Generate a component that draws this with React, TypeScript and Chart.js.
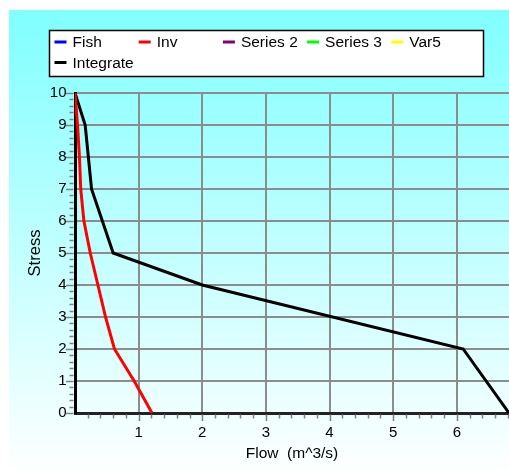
import React, { useEffect, useRef } from "react";
import { Chart, registerables } from "chart.js";
Chart.register(...registerables);

const seriesNames = ["Fish", "Inv", "Series 2", "Series 3", "Var5", "Integrate"];
const seriesColors = ["#0000ff", "#ff0000", "#800080", "#00ff00", "#ffff00", "#000000"];
const invFlow = [0, 0.04, 0.07, 0.09, 0.14, 0.24, 0.36, 0.48, 0.62, 0.93, 1.21];
const invStress = [10, 9, 8, 7, 6, 5, 4, 3, 2, 1, 0];
const integrateFlow = [0, 0.16, 0.21, 0.26, 0.6, 2.0, 6.1, 6.82];
const integrateStress = [10, 9, 8, 7, 5, 4, 2, 0];
const xMax = 6.82;
const yMax = 10;
const xTitle = "Flow  (m^3/s)";
const yTitle = "Stress";

const FONT = "'Liberation Sans', Arial, sans-serif";

const bgPlugin = {
  id: "bg",
  beforeDraw(chart: any) {
    const ctx = chart.ctx;
    const g = ctx.createLinearGradient(0, 10, 0, 474);
    g.addColorStop(0, "#80ffff");
    g.addColorStop(1, "#ffffff");
    ctx.save();
    ctx.fillStyle = g;
    ctx.fillRect(9, 10, 500, 464);
    ctx.restore();
  },
};

const minorTickPlugin = {
  id: "minorTicks",
  afterDraw(chart: any) {
    const ctx = chart.ctx;
    const xs = chart.scales.x;
    const ys = chart.scales.y;
    const area = chart.chartArea;
    ctx.save();
    ctx.strokeStyle = "#808080";
    ctx.lineWidth = 1.5;
    const nx = Math.floor(xMax / 0.2 + 1e-6);
    for (let i = 1; i <= nx; i++) {
      const major = i % 5 === 0;
      const px = Math.round(xs.getPixelForValue(i * 0.2)) + 0.5;
      ctx.beginPath();
      ctx.moveTo(px, area.bottom + 1.5);
      ctx.lineTo(px, area.bottom + (major ? 8 : 5.5));
      ctx.stroke();
    }
    const ny = Math.round(yMax / 0.2);
    for (let i = 0; i <= ny; i++) {
      const major = i % 5 === 0;
      const py = Math.round(ys.getPixelForValue(i * 0.2)) + 0.5;
      ctx.beginPath();
      ctx.moveTo(area.left - 1.5, py);
      ctx.lineTo(area.left - (major ? 9 : 5.5), py);
      ctx.stroke();
    }
    ctx.restore();
  },
};

const legendPlugin = {
  id: "boxLegend",
  afterDraw(chart: any) {
    const ctx = chart.ctx;
    ctx.save();
    ctx.fillStyle = "#ffffff";
    ctx.fillRect(49, 30, 435, 47);
    ctx.strokeStyle = "#000000";
    ctx.lineWidth = 1.5;
    ctx.strokeRect(49.5, 30.5, 434, 46);
    ctx.font = `15.5px ${FONT}`;
    ctx.textBaseline = "middle";
    ctx.textAlign = "left";
    chart.data.datasets.forEach((ds: any, i: number) => {
      const col = i % 5;
      const row = Math.floor(i / 5);
      const x = 54.5 + col * 84.2;
      const y = 42 + row * 20.5;
      ctx.strokeStyle = ds.borderColor;
      ctx.lineWidth = 3;
      ctx.beginPath();
      ctx.moveTo(x, y);
      ctx.lineTo(x + 12, y);
      ctx.stroke();
      ctx.fillStyle = "#000000";
      ctx.fillText(ds.label, x + 18, y + 1);
    });
    ctx.restore();
  },
};

export default function App() {
  const ref = useRef<HTMLCanvasElement>(null);
  useEffect(() => {
    const datasets = seriesNames.map((name, i) => {
      let data: { x: number; y: number }[] = [];
      if (name === "Inv") data = invFlow.map((x, k) => ({ x, y: invStress[k] }));
      if (name === "Integrate") data = integrateFlow.map((x, k) => ({ x, y: integrateStress[k] }));
      return {
        label: name,
        data,
        borderColor: seriesColors[i],
        backgroundColor: seriesColors[i],
        borderWidth: 3,
        pointRadius: 0,
        showLine: true,
        tension: 0,
        fill: false,
      };
    });
    const chart = new Chart(ref.current!, {
      type: "scatter",
      data: { datasets },
      options: {
        animation: false,
        responsive: false,
        maintainAspectRatio: false,
        layout: { padding: { top: 93, right: 0, bottom: 0, left: 0 } },
        plugins: { legend: { display: false }, tooltip: { enabled: false } },
        scales: {
          x: {
            type: "linear",
            min: 0,
            max: xMax,
            afterFit: (s: any) => {
              s.height = 61;
            },
            ticks: {
              stepSize: 1,
              includeBounds: false,
              padding: 11,
              color: "#000",
              font: { size: 15, family: FONT },
              callback: (v: any) => (v === 0 ? "" : String(v)),
            },
            grid: { color: "#8c8c8c", lineWidth: 2, drawTicks: false },
            border: { display: true, color: "#222", width: 3 },
            title: {
              display: true,
              text: xTitle,
              color: "#000",
              font: { size: 15.5, family: FONT },
              padding: { top: 0, bottom: 11 },
            },
          },
          y: {
            type: "linear",
            min: 0,
            max: yMax,
            afterFit: (s: any) => {
              s.width = 75;
            },
            ticks: {
              stepSize: 1,
              padding: 8.5,
              color: "#000",
              font: { size: 15, family: FONT },
            },
            grid: { color: "#8c8c8c", lineWidth: 2, drawTicks: false },
            border: { display: true, color: "#000", width: 3 },
            title: {
              display: true,
              text: yTitle,
              color: "#000",
              font: { size: 16.5, family: FONT },
              padding: { top: 26, bottom: 0 },
            },
          },
        },
      },
      plugins: [bgPlugin, minorTickPlugin, legendPlugin],
    });
    return () => chart.destroy();
  }, []);
  return (
    <div style={{ position: "absolute", left: 0, top: 0, width: 509, height: 474 }}>
      <canvas ref={ref} width={509} height={474} style={{ display: "block", width: 509, height: 474 }} />
    </div>
  );
}
